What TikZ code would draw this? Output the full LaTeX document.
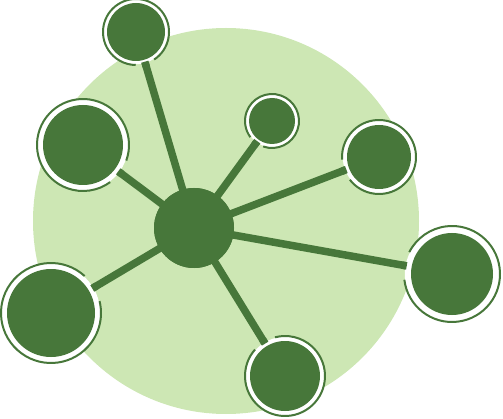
\documentclass[tikz,border=0pt]{standalone}
\usetikzlibrary{calc}
\definecolor{dkgreen}{HTML}{47773A}
\definecolor{ltgreen}{HTML}{CDE7B4}
\tikzset{
  hubnode/.style={circle, fill=dkgreen, inner sep=0pt, minimum size=80pt},
  anchorbox/.style={circle, inner sep=0pt, minimum size=#1},
  spoke/.style={draw=dkgreen, line width=7.5pt},
  ringline/.style={draw=dkgreen, line width=2pt},
}
% #1 name, #2 x, #3 y, #4 inner r, #5 ring R
\newcommand{\leafnode}[5]{%
  \node[anchorbox=2*#5 pt] (#1) at (#2,#3) {};
  \draw[spoke] (hub.center) -- (#1.center);
  \fill[white] (#1.center) circle (#5pt-0.8pt);
  \fill[dkgreen] (#1.center) circle (#4pt);
  \path let \p1=($(hub.center)-(#1.center)$), \n1={atan2(\y1,\x1)} in
    [ringline] ($(#1.center)+(\n1+17:#5pt)$) arc[start angle=\n1+17, end angle=\n1+343, radius=#5pt];
  \path let \p1=($(hub.center)-(#1.center)$), \n1={atan2(\y1,\x1)} in
    [spoke] ($(#1.center)+(\n1:#5pt-2pt)$) -- ($(#1.center)+(\n1:#5pt+3pt)$);
}
\begin{document}
\begin{tikzpicture}[x=1pt,y=1pt]
\useasboundingbox (0,0) rectangle (503,418);
\fill[ltgreen] (226,197) circle (193pt);
\node[hubnode] (hub) at (194,190) {};
\leafnode{n1}{136}{386}{29}{33}
\leafnode{n2}{83}{273}{40}{46}
\leafnode{n3}{272}{297}{23}{27}
\leafnode{n4}{379}{261}{32}{37}
\leafnode{n5}{452}{144}{41}{48}
\leafnode{n6}{285}{42}{35}{40}
\leafnode{n7}{51}{105}{44}{50}
\node[hubnode] at (hub.center) {};
\end{tikzpicture}
\end{document}
